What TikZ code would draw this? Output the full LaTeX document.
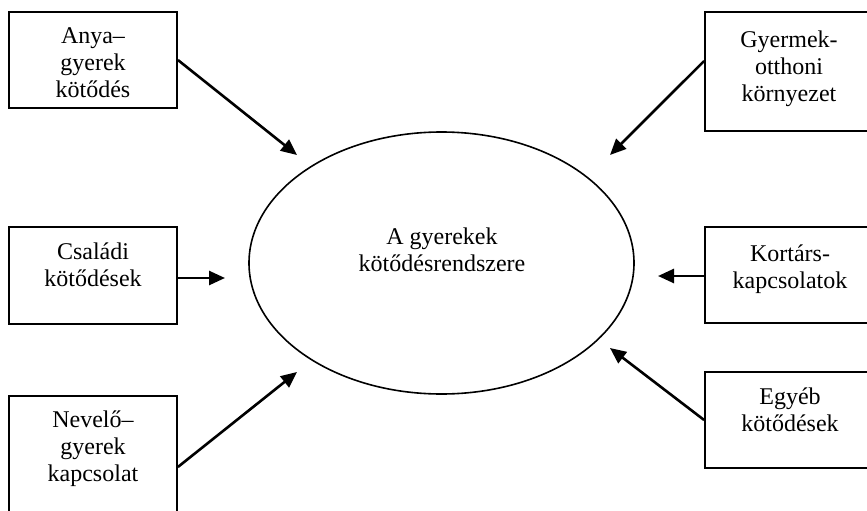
\documentclass[tikz,border=0pt]{standalone}
\usepackage{fontspec}
\setmainfont{Liberation Serif}
\usetikzlibrary{arrows.meta,shapes.geometric}

\begin{document}
\begin{tikzpicture}[x=1pt,y=-1pt,
  kbox/.style={draw,line width=1.8pt,rectangle,inner sep=0pt},
  ktxt/.style={align=center,inner sep=0pt,font=\fontsize{24}{27}\selectfont},
  hub/.style={draw,line width=1.6pt,ellipse,inner sep=0pt},
  conn/.style={line width=2.6pt,-{Triangle[length=16pt,width=14pt]}}]
\path[use as bounding box] (0,0) rectangle (867,511);
\clip (0,0) rectangle (867,511);
% central ellipse
\node[hub,minimum width=385pt,minimum height=262pt] (rendszer) at (441.5,263) {};
\node[ktxt] (rendszerT) at (442,250) {A gyerekek\\kötődésrendszere};
% left boxes
\node[kbox,minimum width=168pt,minimum height=96pt] (anya) at (93,60) {};
\node[ktxt] (anyaT) at (93,63) {Anya–\\gyerek\\kötődés};
\node[kbox,minimum width=168pt,minimum height=97pt] (csaladi) at (93,275.5) {};
\node[ktxt] (csaladiT) at (93,265) {Családi\\kötődések};
\node[kbox,minimum width=168pt,minimum height=142pt] (nevelo) at (93,467) {};
\node[ktxt] (neveloT) at (93,449) {Nevelő–\\gyerek\\kapcsolat};
% right boxes
\node[kbox,minimum width=166pt,minimum height=119pt] (gyermek) at (788,71.5) {};
\node[ktxt] (gyermekT) at (789,69) {Gyermek-\\otthoni\\környezet};
\node[kbox,minimum width=166pt,minimum height=96pt] (kortars) at (788,275) {};
\node[ktxt] (kortarsT) at (790,269) {Kortárs-\\kapcsolatok};
\node[kbox,minimum width=166pt,minimum height=96pt] (egyeb) at (788,420) {};
\node[ktxt] (egyebT) at (790,410) {Egyéb\\kötődések};
% arrow tips
\coordinate (tipAnya) at (297,155);
\coordinate (tipCsaladi) at (225,278);
\coordinate (tipNevelo) at (297,372);
\coordinate (tipGyermek) at (610,155);
\coordinate (tipKortars) at (658,276);
\coordinate (tipEgyeb) at (610,348);
\draw[conn] (anya.east) -- (tipAnya);
\draw[conn] ([yshift=-2.5pt]csaladi.east) -- (tipCsaladi);
\draw[conn] (nevelo.east) -- (tipNevelo);
\draw[conn] ([yshift=10.5pt]gyermek.west) -- (tipGyermek);
\draw[conn] ([yshift=-1pt]kortars.west) -- (tipKortars);
\draw[conn] (egyeb.west) -- (tipEgyeb);
\end{tikzpicture}
\end{document}
